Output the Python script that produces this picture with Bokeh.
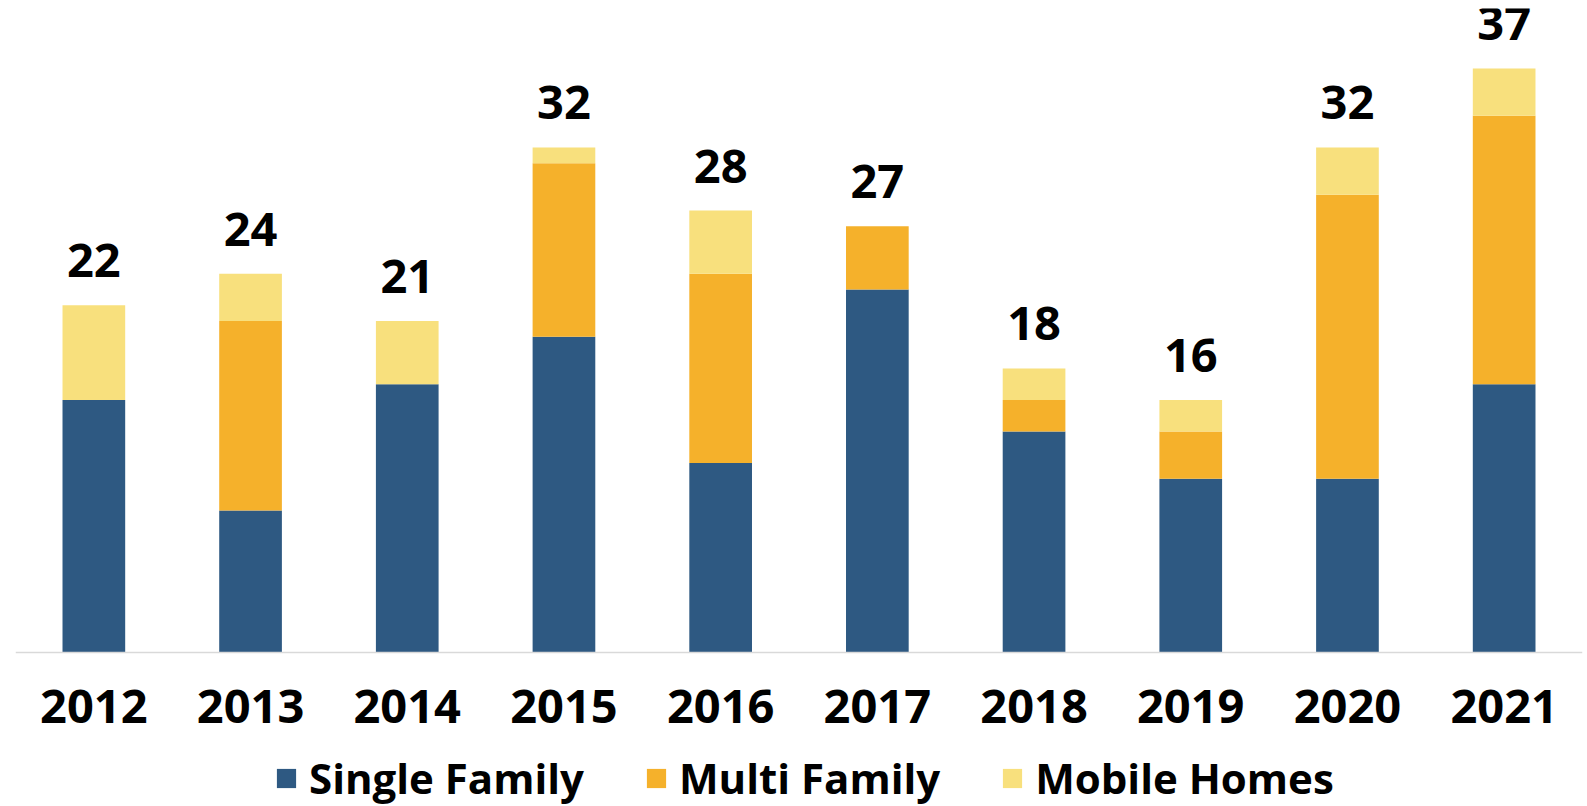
from bokeh.plotting import figure
from bokeh.models import ColumnDataSource, LabelSet, Legend, LegendItem, FactorRange, Range1d, CategoricalAxis
from bokeh.core.properties import value
from bokeh.embed import file_html
from bokeh.resources import INLINE

years = ["2012", "2013", "2014", "2015", "2016", "2017", "2018", "2019", "2020", "2021"]
single_family = [16, 9, 17, 20, 12, 23, 14, 11, 11, 17]
multi_family = [0, 12, 0, 11, 12, 4, 2, 3, 18, 17]
mobile_homes = [6, 3, 4, 1, 4, 0, 2, 2, 3, 3]
series = ["Single Family", "Multi Family", "Mobile Homes"]
colors = ["#2E5982", "#F5B12B", "#F8E07D"]

totals = [a + b + c for a, b, c in zip(single_family, multi_family, mobile_homes)]
src = ColumnDataSource(dict(
    years=years,
    single=single_family,
    multi=multi_family,
    mobile=mobile_homes,
    total=totals,
    total_text=[str(t) for t in totals],
))

FONT = "Open Sans"
PX_PER_UNIT = 644 / 40.8

p = figure(
    x_range=FactorRange(*years, range_padding=0),
    y_range=Range1d(-154 / PX_PER_UNIT, 40.8),
    frame_width=1567, frame_height=798,
    output_backend="svg", toolbar_location=None,
    x_axis_location=None,
    min_border_left=15, min_border_right=5, min_border_top=8, min_border_bottom=0,
)

rs = p.vbar_stack(["single", "multi", "mobile"], x="years", width=0.4, source=src,
                  color=colors, line_color=None)

labels = LabelSet(x="years", y="total", text="total_text", source=src,
                  text_align="center", text_baseline="alphabetic", y_offset=28,
                  text_font=value(FONT), text_font_style="bold", text_font_size="47px",
                  text_color="black")
p.add_layout(labels)

xaxis = CategoricalAxis(fixed_location=0)
xaxis.axis_line_color = "#D9D9D9"
xaxis.axis_line_width = 1.5
xaxis.major_tick_line_color = None
xaxis.minor_tick_line_color = None
xaxis.major_label_text_font = FONT
xaxis.major_label_text_font_style = "bold"
xaxis.major_label_text_font_size = "47px"
xaxis.major_label_text_color = "black"
xaxis.major_label_standoff = 31
p.add_layout(xaxis, "below")

p.yaxis.visible = False
p.xgrid.visible = False
p.ygrid.visible = False
p.outline_line_color = None

legend = Legend(
    items=[LegendItem(label=s, renderers=[r]) for s, r in zip(series, rs)],
    orientation="horizontal", location=(259, 0),
    label_text_font=FONT, label_text_font_style="bold", label_text_font_size="42px",
    label_text_color="black",
    glyph_width=24, glyph_height=24, label_standoff=11, spacing=60,
    border_line_color=None, background_fill_alpha=0,
    padding=0, margin=0,
)
p.add_layout(legend)

open("out.html", "w").write(file_html(p, INLINE))
